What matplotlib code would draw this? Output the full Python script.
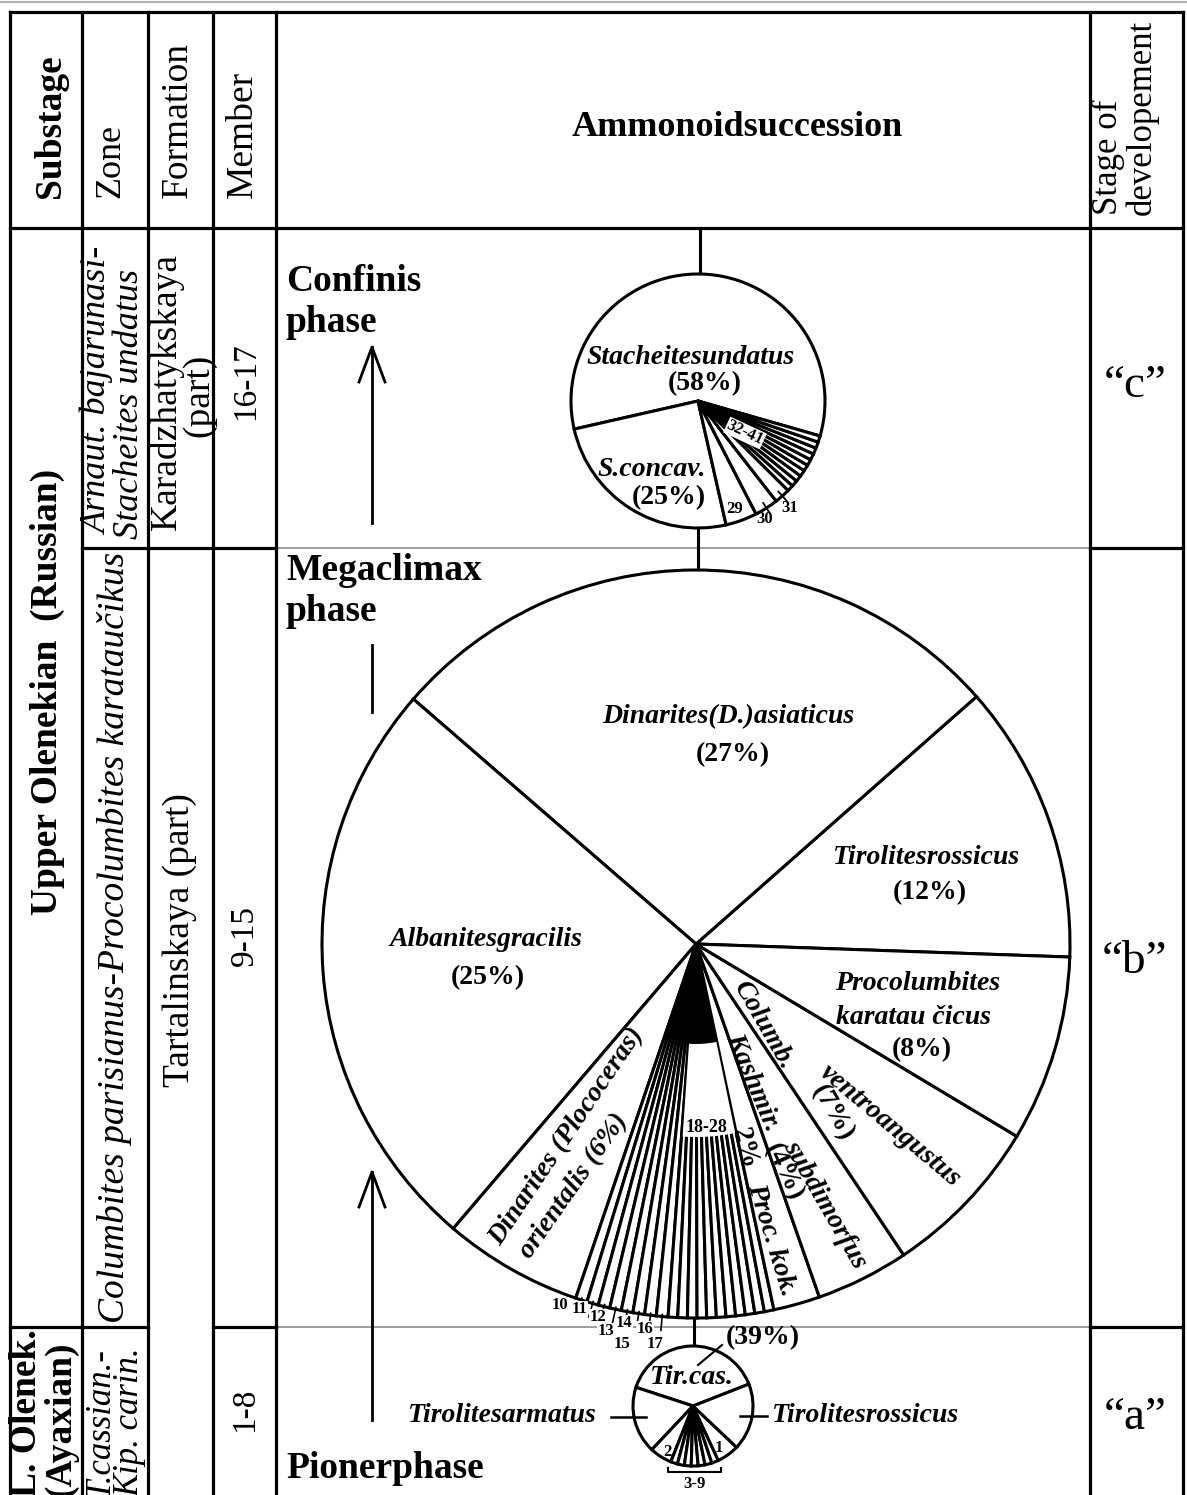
import numpy as np
import matplotlib.pyplot as plt
from matplotlib.patches import Wedge

plt.rcParams['font.family'] = ['Liberation Serif', 'DejaVu Serif']

W, H = 1187, 1495

# Stage "c" (Confinis phase), share of species in %
c_names = ['Stacheitesundatus', 'S.concav.', '29', '30', '31',
           '32', '33', '34', '35', '36', '37', '38', '39', '40', '41']
c_share = [58, 25, 4, 3, 2, 0.8, 0.8, 0.8, 0.8, 0.8, 0.8, 0.8, 0.8, 0.8, 0.8]

# Stage "b" (Megaclimax phase)
b_names = ['Tirolitesrossicus', 'Dinarites(D.)asiaticus', 'Albanitesgracilis',
           'Dinarites (Plococeras) orientalis',
           '10', '11', '12', '13', '14', '15', '16', '17',
           '18', '19', '20', '21', '22', '23', '24', '25', '26', '27', '28',
           'Proc. kok.', 'Kashmir. subdimorfus', 'Columb. ventroangustus',
           'Procolumbites karatau čicus']
b_share = [12, 27, 25, 6,
           0.5, 0.5, 0.5, 0.5, 0.5, 0.5, 0.5, 0.5,
           0.41, 0.41, 0.41, 0.41, 0.41, 0.41, 0.41, 0.41, 0.41, 0.41, 0.41,
           2, 4, 7, 8]

# Stage "a" (Pioner phase)
a_names = ['Tir.cas.', 'Tirolitesarmatus', '2', '3', '4', '5', '6', '7', '8', '9',
           '1', 'Tirolitesrossicus']
a_share = [39, 18, 6, 1.85, 1.85, 1.85, 1.85, 1.85, 1.85, 1.85, 6, 18]

# column texts of the table, rows top to bottom
substage = ['Upper Olenekian  (Russian)', 'L. Olenek.', '(Ayaxian)']
zone = ['Arnaut. bajarunasi-', 'Stacheites undatus',
        'Columbites parisianus-Procolumbites karataučikus',
        'T.cassian.-', 'Kip. carin.']
formation = ['Karadzhatykskaya', '(part)', 'Tartalinskaya (part)']
member = ['16-17', '9-15', '1-8']
stage = ['\u201cc\u201d', '\u201cb\u201d', '\u201ca\u201d']

fig = plt.figure(figsize=(W / 100, H / 100), dpi=100)
ax = fig.add_axes([0, 0, 1, 1])

LW = 2.3
GREY = '#8c8c8c'


def line(xs, ys, color='black', lw=LW, z=3):
    ax.plot(xs, ys, color=color, lw=lw, solid_capstyle='projecting', zorder=z)


def txt(x, y, s, size, weight='normal', style='normal', rot=0, ha='center', va='center', **kw):
    return ax.text(x, y, s, fontsize=size, fontweight=weight, fontstyle=style,
                   rotation=rot, rotation_mode='anchor', ha=ha, va=va, zorder=6, **kw)


def pie(share, centre, radius, start):
    # start = anticlockwise screen angle of the first wedge edge (y axis is flipped)
    wedges, _ = ax.pie(share, center=centre, radius=radius, startangle=-start,
                       counterclock=False, frame=True,
                       wedgeprops=dict(facecolor='white', edgecolor='black',
                                       linewidth=2.2, zorder=4))
    return wedges


def polar(centre, rho, theta):
    t = np.deg2rad(theta)
    return centre[0] + rho * np.cos(t), centre[1] + rho * np.sin(t)


# ---- table grid ----
cols = [10, 82, 148, 213, 276, 1090, 1183]
top, head = 12, 228
row_c, row_a = 548, 1327
line([0, W], [2, 2], color='#b0b0b0', lw=1.5)
for x in cols:
    line([x, x], [top, H + 5])
line([cols[0], cols[-1]], [top, top])
line([cols[0], cols[-1]], [head, head])
line([82, 276], [row_c, row_c])
line([1090, 1183], [row_c, row_c])
line([276, 1090], [row_c, row_c], color=GREY, lw=1.2, z=1)
line([10, 148], [row_a, row_a])
line([213, 276], [row_a, row_a])
line([1090, 1183], [row_a, row_a])
line([276, 1090], [row_a, row_a], color=GREY, lw=1.2, z=1)

# ---- header ----
txt(50, 198, 'Substage', 27, weight='bold', rot=90, ha='left')
txt(111, 198, 'Zone', 26, rot=90, ha='left')
txt(178, 198, 'Formation', 27, rot=90, ha='left')
txt(243, 198, 'Member', 27, rot=90, ha='left')
txt(737, 128, 'Ammonoidsuccession', 26, weight='bold')
txt(1108, 215, 'Stage of', 25, rot=90, ha='left')
txt(1142, 215, 'developement', 25, rot=90, ha='left')

# ---- left columns ----
txt(47, 692, substage[0], 27, weight='bold', rot=90)
txt(27, 1497, substage[1], 27, weight='bold', rot=90, ha='left')
txt(61, 1497, substage[2], 27, weight='bold', rot=90, ha='left')

txt(98, 390, zone[0], 26, style='italic', rot=90)
txt(129, 404, zone[1], 26, style='italic', rot=90)
txt(115, 937, zone[2], 27, style='italic', rot=90)
txt(100, 1497, zone[3], 25, style='italic', rot=90, ha='left')
txt(130, 1497, zone[4], 25, style='italic', rot=90, ha='left')

txt(166, 391, formation[0], 27, rot=90)
txt(199, 395, formation[1], 27, rot=90)
txt(180, 940, formation[2], 27, rot=90)

txt(246, 381, member[0], 24, rot=90)
txt(245, 935, member[1], 24, rot=90)
txt(245, 1410, member[2], 24, rot=90)

txt(1135, 386, stage[0], 34)
txt(1135, 962, stage[1], 34)
txt(1135, 1418, stage[2], 34)

# ---- phase names and arrows ----
txt(286, 291, 'Confinis', 27, weight='bold', ha='left', va='baseline')
txt(286, 332, 'phase', 27, weight='bold', ha='left', va='baseline')
txt(286, 580, 'Megaclimax', 27, weight='bold', ha='left', va='baseline')
txt(286, 621, 'phase', 27, weight='bold', ha='left', va='baseline')
txt(286, 1478, 'Pionerphase', 27, weight='bold', ha='left', va='baseline')

for x0, y_tip, y_tail in [(372, 347, 523), (372, 1172, 1420)]:
    ax.plot([x0, x0], [y_tail, y_tip], color='black', lw=2, zorder=3)
    ax.plot([x0 - 13, x0, x0 + 13], [y_tip + 35, y_tip, y_tip + 35],
            color='black', lw=2, zorder=3)
ax.plot([372, 372], [645, 712], color='black', lw=2, zorder=3)

# ---- pies ----
cc, rc = (698, 401), 127
cb, rb = (696, 944), 374
ca, ra = (693, 1406), 60

wc = pie(c_share, cc, rc, -16)
wb = pie(b_share, cb, rb, -2)
wa = pie(a_share, ca, ra, 21.4)

# connecting stems
line([cc[0] + 2, cc[0] + 2], [head, cc[1] - rc], lw=2.2)
line([cc[0], cc[0]], [cc[1] + rc, cb[1] - rb], lw=2.2)
line([ca[0] + 1, ca[0] + 1], [cb[1] + rb, ca[1] - ra], lw=2.2)

# -- stage c labels
txt(691, 357, 'Stacheitesundatus', 20, weight='bold', style='italic')
txt(705, 384, '(58%)', 20, weight='bold')
txt(652, 469, 'S.concav.', 20, weight='bold', style='italic')
txt(669, 498, '(25%)', 20, weight='bold')
txt(735, 509, c_names[2], 12, weight='bold')
txt(765, 519, c_names[3], 12, weight='bold')
txt(790, 508, c_names[4], 12, weight='bold')
txt(745, 433, '32-41', 12, weight='bold', rot=-25,
    bbox=dict(facecolor='white', edgecolor='none', pad=0.5))
for w in wc[3:5]:
    mid = 0.5 * (w.theta1 + w.theta2)
    p0, p1 = polar(cc, rc - 6, mid), polar(cc, rc + 7, mid)
    ax.plot([p0[0], p1[0]], [p0[1], p1[1]], color='black', lw=1.3, zorder=5)

# -- stage b labels
B, BI = dict(weight='bold'), dict(weight='bold', style='italic')
txt(728, 717, b_names[1], 20, **BI)
txt(733, 755, '(27%)', 20, **B)
txt(927, 858, b_names[0], 20, **BI)
txt(930, 893, '(12%)', 20, **B)
txt(486, 940, b_names[2], 20, **BI)
txt(488, 978, '(25%)', 20, **B)
txt(918, 984, 'Procolumbites', 20, **BI)
txt(913, 1018, 'karatau čicus', 20, **BI)
txt(922, 1050, '(8%)', 20, **B)
txt(763, 1025, 'Columb.', 20, rot=-60, **BI)
txt(890, 1126, 'ventroangustus', 20, rot=-40, **BI)
txt(833, 1113, '(7%)', 20, rot=-60, **B)
txt(753, 1082, 'Kashmir.', 20, rot=-67, **BI)
txt(825, 1205, 'subdimorfus', 20, rot=-60, **BI)
txt(784, 1172, '(4%)', 20, rot=-65, **B)
txt(745, 1148, '2%', 20, rot=-75, **B)
txt(771, 1240, 'Proc. kok.', 20, rot=-73, **BI)
txt(567, 1137, 'Dinarites (Plococeras)', 20, rot=56, **BI)
txt(574, 1186, 'orientalis (6%)', 20, rot=55, **BI)

# white gap with the 18-28 caption
group = wb[12:23]
t1 = min(w.theta1 for w in group)
t2 = max(w.theta2 for w in group)
ax.add_patch(Wedge(cb, 193, t1 + 0.3, t2 - 0.3, width=93,
                   facecolor='white', edgecolor='none', zorder=5))
txt(706, 1127, '18-28', 13, **B)

# ticks and numbers for species 10-17
for w in wb[4:12]:
    mid = 0.5 * (w.theta1 + w.theta2)
    p0, p1 = polar(cb, rb - 2, mid), polar(cb, rb + 14, mid)
    ax.plot([p0[0], p1[0]], [p0[1], p1[1]], color='black', lw=1.2, zorder=5)
num_pos = [(560, 1305), (580, 1309), (598, 1317), (606, 1331),
           (624, 1323), (622, 1344), (645, 1329), (655, 1344)]
for name, (x, y) in zip(b_names[4:12], num_pos):
    txt(x, y, name, 12, bbox=dict(facecolor='white', edgecolor='none', pad=0.2), **B)

# -- stage a labels
txt(692, 1378, a_names[0], 20, **BI)
txt(763, 1338, '(39%)', 20, **B)
ax.plot([698, 722], [1365, 1345], color='black', lw=1.5, zorder=5)
txt(502, 1416, a_names[1], 20, **BI)
txt(866, 1416, a_names[-1], 20, **BI)
ax.plot([611, 646], [1417, 1417], color='black', lw=1.8, zorder=5)
ax.plot([740, 767], [1416, 1416], color='black', lw=1.8, zorder=5)
txt(667, 1452, a_names[2], 12, **B)
txt(719, 1448, a_names[10], 12, **B)
fan = wa[3:10]
xa = polar(ca, ra, min(w.theta1 for w in fan))[0]
xb = polar(ca, ra, max(w.theta2 for w in fan))[0]
x_l, x_r = min(xa, xb) - 3, max(xa, xb) + 3
ax.plot([x_l, x_l, x_r, x_r], [1468, 1472, 1472, 1468], color='black', lw=1.5, zorder=5)
txt(694, 1484, '3-9', 12, **B)

ax.set_xlim(0, W)
ax.set_ylim(H, 0)
ax.set_aspect('auto')
ax.axis('off')

fig.savefig('out.png', dpi=100, facecolor='white')
